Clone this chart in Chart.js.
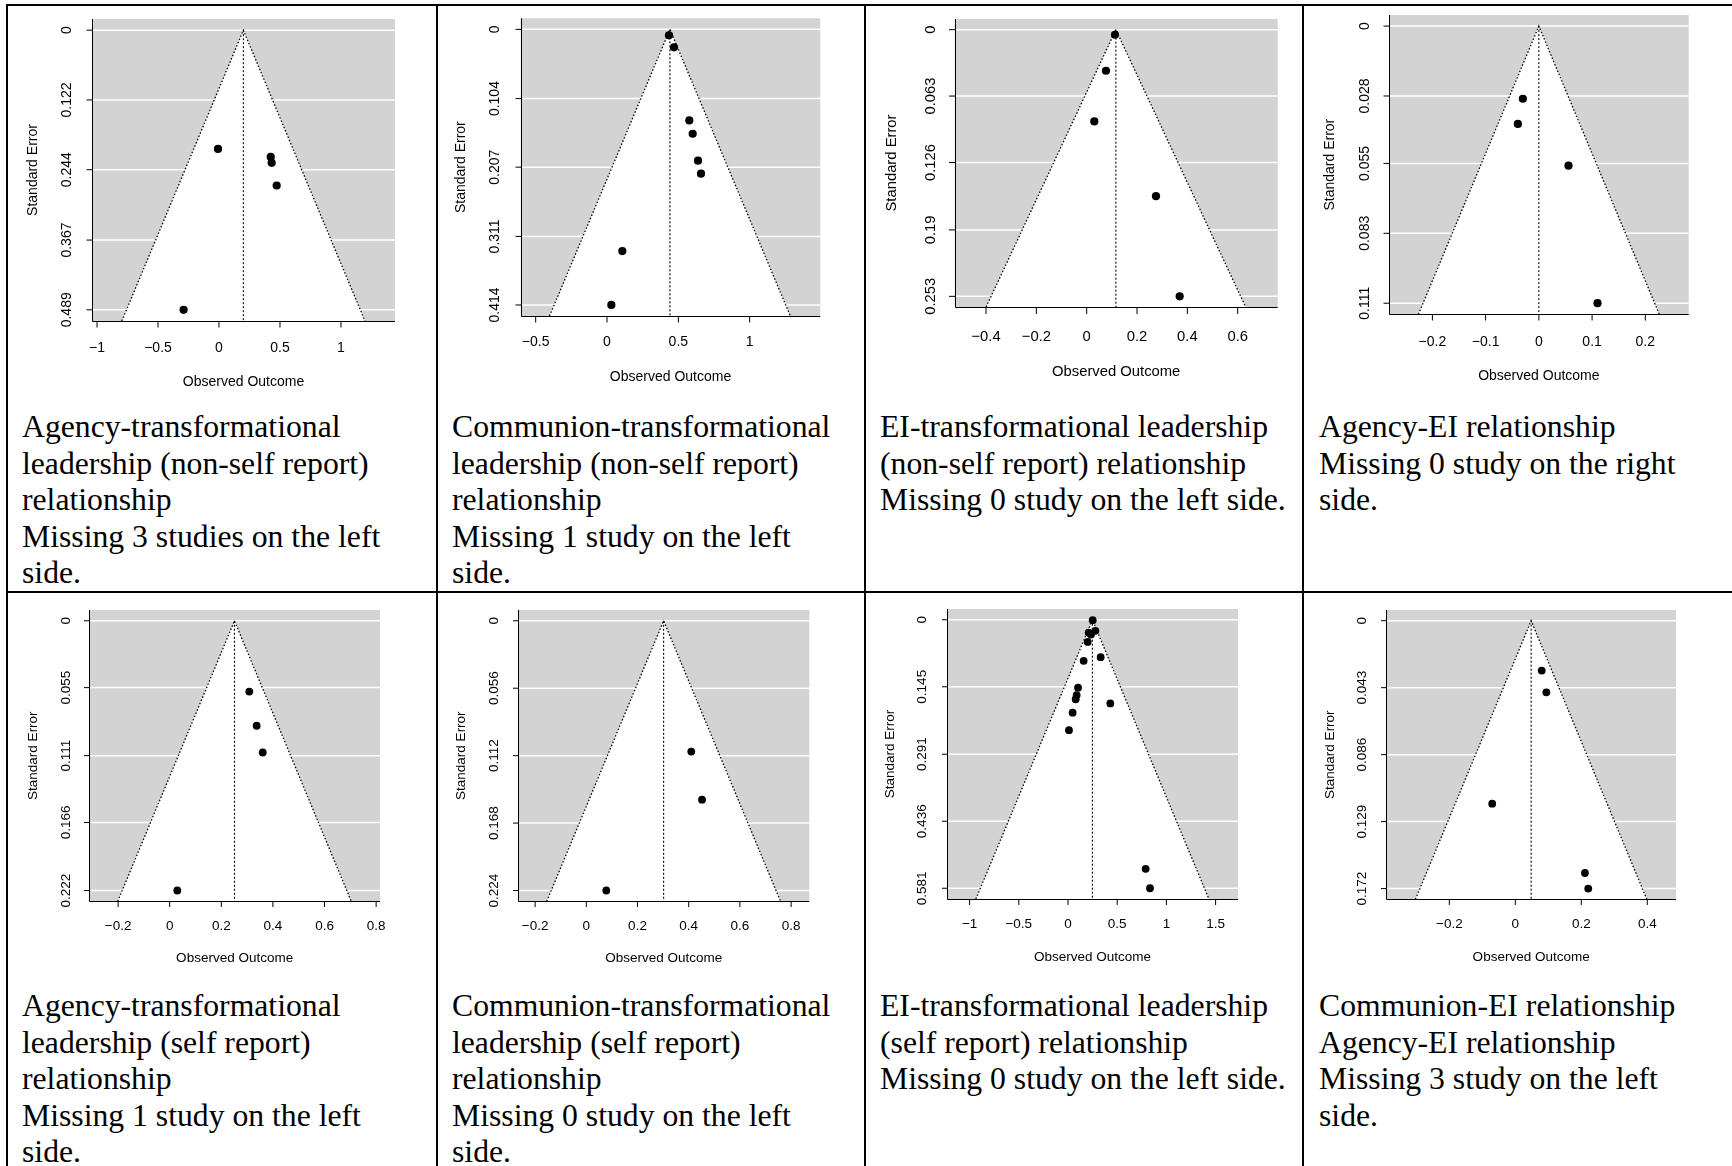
<!DOCTYPE html>
<html>
<head>
<meta charset="utf-8">
<script src="https://cdn.jsdelivr.net/npm/chart.js@4.4.1/dist/chart.umd.min.js"></script>
<style>
html, body { margin: 0; padding: 0; background: #fff; }
body { width: 1732px; height: 1166px; position: relative; overflow: hidden; }
canvas { position: absolute; }
.cap { position: absolute; font-family: "Liberation Serif", "Times New Roman", serif; font-size: 31.7px; line-height: 36.6px; color: #000; white-space: nowrap; }
.rule { position: absolute; background: #000; }
</style>
</head>
<body>
<script>
// funnel plot values (observed outcome, standard error)
const p1Effect = [-0.008, 0.424, 0.432, 0.473, -0.290];
const p1SE     = [0.2076, 0.2216, 0.232, 0.2716, 0.489];
const p2Effect = [0.4345, 0.4695, 0.577, 0.6005, 0.6377, 0.6587, 0.1074, 0.0303];
const p2SE     = [0.009, 0.027, 0.1368, 0.1568, 0.1973, 0.2168, 0.3331, 0.414];
const p3Effect = [0.1124, 0.0767, 0.0302, 0.2753, 0.3695];
const p3SE     = [0.0048, 0.039, 0.0871, 0.158, 0.253];
const p4Effect = [-0.030, -0.0394, 0.0557, 0.1102];
const p4SE     = [0.0291, 0.0392, 0.0559, 0.111];
const p5Effect = [0.3085, 0.337, 0.3605, 0.0295];
const p5SE     = [0.0583, 0.0864, 0.1084, 0.222];
const p6Effect = [0.410, 0.452, 0.078];
const p6SE     = [0.1086, 0.1486, 0.224];
const p7Effect = [0.251, 0.278, 0.210, 0.234, 0.200, 0.332, 0.159, 0.102, 0.088, 0.078, 0.430, 0.047, 0.010, 0.789, 0.833];
const p7SE     = [0.001, 0.024, 0.028, 0.032, 0.048, 0.081, 0.089, 0.147, 0.163, 0.172, 0.181, 0.201, 0.239, 0.539, 0.581];
const p8Effect = [0.080, 0.094, -0.070, 0.211, 0.221];
const p8SE     = [0.032, 0.046, 0.1175, 0.162, 0.172];

// pooled estimate (centre of each funnel)
const estimates = [0.2, 0.441, 0.116, 0.0, 0.251, 0.302, 0.248, 0.048];

// tick labels
const yTicks = [
  [0, 0.122, 0.244, 0.367, 0.489],
  [0, 0.104, 0.207, 0.311, 0.414],
  [0, 0.063, 0.126, 0.19, 0.253],
  [0, 0.028, 0.055, 0.083, 0.111],
  [0, 0.055, 0.111, 0.166, 0.222],
  [0, 0.056, 0.112, 0.168, 0.224],
  [0, 0.145, 0.291, 0.436, 0.581],
  [0, 0.043, 0.086, 0.129, 0.172]
];
const xTicks = [
  [-1, -0.5, 0, 0.5, 1],
  [-0.5, 0, 0.5, 1],
  [-0.4, -0.2, 0, 0.2, 0.4, 0.6],
  [-0.2, -0.1, 0, 0.1, 0.2],
  [-0.2, 0, 0.2, 0.4, 0.6, 0.8],
  [-0.2, 0, 0.2, 0.4, 0.6, 0.8],
  [-1, -0.5, 0, 0.5, 1, 1.5],
  [-0.2, 0, 0.2, 0.4]
];

const captions = [
  ['Agency-transformational', 'leadership (non-self report)', 'relationship', 'Missing 3 studies on the left', 'side.'],
  ['Communion-transformational', 'leadership (non-self report)', 'relationship', 'Missing 1 study on the left', 'side.'],
  ['EI-transformational leadership', '(non-self report) relationship', 'Missing 0 study on the left side.'],
  ['Agency-EI relationship', 'Missing 0 study on the right', 'side.'],
  ['Agency-transformational', 'leadership (self report)', 'relationship', 'Missing 1 study on the left', 'side.'],
  ['Communion-transformational', 'leadership (self report)', 'relationship', 'Missing 0 study on the left', 'side.'],
  ['EI-transformational leadership', '(self report) relationship', 'Missing 0 study on the left side.'],
  ['Communion-EI relationship', 'Agency-EI relationship', 'Missing 3 study on the left', 'side.']
];

const effects = [p1Effect, p2Effect, p3Effect, p4Effect, p5Effect, p6Effect, p7Effect, p8Effect];
const ses = [p1SE, p2SE, p3SE, p4SE, p5SE, p6SE, p7SE, p8SE];

// where each plot sits on the page (plot box, x range, font, label offsets)
const panels = [
  {L: 92,     T: 19,   R: 395,    B: 321,   xMin: -1.041,  xMax: 1.443,  fs: 14,   off: [25, 59, 27, 61],       tick: 6},
  {L: 520.7,  T: 18.3, R: 820.3,  B: 316,   xMin: -0.605,  xMax: 1.495,  fs: 14,   off: [25.4, 59.4, 26.3, 60.7], tick: 6},
  {L: 954.7,  T: 19,   R: 1277.7, B: 307,   xMin: -0.5245, xMax: 0.759,  fs: 14.8, off: [23.7, 62.7, 29.7, 65],   tick: 6.5},
  {L: 1389,   T: 15,   R: 1688.7, B: 314.3, xMin: -0.2815, xMax: 0.2815, fs: 14,   off: [23.7, 59, 28, 61.4],     tick: 6},
  {L: 89.3,   T: 610,  R: 380,    B: 901.3, xMin: -0.3116, xMax: 0.815,  fs: 13.5, off: [23.3, 56, 25.4, 57.4],   tick: 5.5},
  {L: 518.3,  T: 610,  R: 809.3,  B: 901.3, xMin: -0.2656, xMax: 0.871,  fs: 13.5, off: [23.6, 57, 25.4, 57.4],   tick: 5.5},
  {L: 947,    T: 609,  R: 1238,   B: 899,   xMin: -1.2297, xMax: 1.7276, fs: 13.5, off: [24.3, 56.7, 25, 58.3],   tick: 5.5},
  {L: 1386.3, T: 610,  R: 1676,   B: 899.3, xMin: -0.391,  xMax: 0.487,  fs: 13.5, off: [23.6, 56.3, 24.7, 58],   tick: 5.5}
];

const capLeft = [22, 452, 880, 1319];
const capTop = [409, 988];
const vLines = [6, 436, 864, 1302];
const hLines = [4, 591];

const sansFont = '"Liberation Sans", Arial, Helvetica, sans-serif';
const fmt = v => String(v).replace('-', '\u2212');

panels.forEach((p, i) => {
  const cx = Math.floor(p.L - 92);
  const cy = Math.floor(p.T - 22);
  const w = Math.ceil(p.R + 20) - cx;
  const h = Math.ceil(p.B + 80) - cy;
  const canvas = document.createElement('canvas');
  canvas.width = w;
  canvas.height = h;
  canvas.style.left = cx + 'px';
  canvas.style.top = cy + 'px';
  canvas.style.width = w + 'px';
  canvas.style.height = h + 'px';
  document.body.appendChild(canvas);

  const yt = yTicks[i];
  const seMax = yt[yt.length - 1];
  const yMin = -0.04 * seMax;
  const yMax = 1.04 * seMax;
  const est = estimates[i];
  const half = 1.96 * yMax;

  const frame = {
    id: 'frame' + i,
    beforeDatasetsDraw(chart) {
      const {ctx, chartArea: a, scales: {y}} = chart;
      ctx.save();
      ctx.fillStyle = '#d3d3d3';
      ctx.fillRect(a.left, a.top, a.right - a.left, a.bottom - a.top);
      ctx.strokeStyle = '#ffffff';
      ctx.lineWidth = 1.5;
      yt.forEach(v => {
        const py = y.getPixelForValue(v);
        ctx.beginPath();
        ctx.moveTo(a.left, py);
        ctx.lineTo(a.right, py);
        ctx.stroke();
      });
      ctx.restore();
    },
    afterDraw(chart) {
      const {ctx, chartArea: a, scales: {x, y}} = chart;
      const o = p.off;
      ctx.save();
      ctx.strokeStyle = '#000';
      ctx.lineWidth = 1;
      const lx = Math.round(a.left) + 0.5;
      const by = Math.round(a.bottom) + 0.5;
      ctx.beginPath();
      ctx.moveTo(lx, a.top);
      ctx.lineTo(lx, by);
      ctx.lineTo(a.right, by);
      ctx.stroke();
      ctx.fillStyle = '#000';
      ctx.font = p.fs + 'px ' + sansFont;
      ctx.textAlign = 'center';
      ctx.textBaseline = 'middle';
      yt.forEach(v => {
        const py = y.getPixelForValue(v);
        ctx.beginPath();
        ctx.moveTo(lx, py);
        ctx.lineTo(lx - p.tick, py);
        ctx.stroke();
        ctx.save();
        ctx.translate(a.left - o[0], py);
        ctx.rotate(-Math.PI / 2);
        ctx.fillText(fmt(v), 0, 0);
        ctx.restore();
      });
      xTicks[i].forEach(v => {
        const px = x.getPixelForValue(v);
        ctx.beginPath();
        ctx.moveTo(px, by);
        ctx.lineTo(px, by + p.tick);
        ctx.stroke();
        ctx.fillText(fmt(v), px, a.bottom + o[2]);
      });
      ctx.fillText('Observed Outcome', (a.left + a.right) / 2, a.bottom + o[3]);
      ctx.save();
      ctx.translate(a.left - o[1], (a.top + a.bottom) / 2);
      ctx.rotate(-Math.PI / 2);
      ctx.fillText('Standard Error', 0, 0);
      ctx.restore();
      ctx.restore();
    }
  };

  new Chart(canvas.getContext('2d'), {
    type: 'scatter',
    data: {
      datasets: [
        {
          // studies, drawn last (on top)
          data: effects[i].map((e, k) => ({x: e, y: ses[i][k]})),
          order: 0,
          pointRadius: i < 4 ? 4.1 : 3.9,
          pointBackgroundColor: '#000',
          pointBorderWidth: 0,
          borderColor: '#000'
        },
        {
          // pooled estimate line
          data: [{x: est, y: 0}, {x: est, y: yMax}],
          order: 1,
          showLine: true,
          borderColor: '#000',
          borderWidth: 1.1,
          borderDash: [2, 2],
          pointRadius: 0,
          fill: false
        },
        {
          // pseudo confidence region
          data: [{x: est - half, y: yMax}, {x: est, y: 0}, {x: est + half, y: yMax}],
          order: 2,
          showLine: true,
          borderColor: '#000',
          borderWidth: 1.3,
          borderDash: [1.5, 2],
          backgroundColor: '#ffffff',
          fill: {value: yMax},
          pointRadius: 0,
          tension: 0
        }
      ]
    },
    options: {
      responsive: false,
      animation: false,
      devicePixelRatio: 1,
      events: [],
      layout: {
        autoPadding: false,
        padding: {left: p.L - cx, top: p.T - cy, right: cx + w - p.R, bottom: cy + h - p.B}
      },
      plugins: {legend: {display: false}, tooltip: {enabled: false}},
      scales: {
        x: {type: 'linear', display: false, min: p.xMin, max: p.xMax},
        y: {type: 'linear', display: false, reverse: true, min: yMin, max: yMax}
      }
    },
    plugins: [frame]
  });

  const cap = document.createElement('div');
  cap.className = 'cap';
  cap.style.left = capLeft[i % 4] + 'px';
  cap.style.top = capTop[Math.floor(i / 4)] + 'px';
  cap.innerHTML = captions[i].join('<br>');
  document.body.appendChild(cap);
});

// table rules
hLines.forEach(t => {
  const d = document.createElement('div');
  d.className = 'rule';
  d.style.left = '6px';
  d.style.top = t + 'px';
  d.style.width = '1726px';
  d.style.height = '2px';
  document.body.appendChild(d);
});
vLines.forEach(l => {
  const d = document.createElement('div');
  d.className = 'rule';
  d.style.left = l + 'px';
  d.style.top = '4px';
  d.style.width = '2px';
  d.style.height = '1162px';
  document.body.appendChild(d);
});
</script>
</body>
</html>
